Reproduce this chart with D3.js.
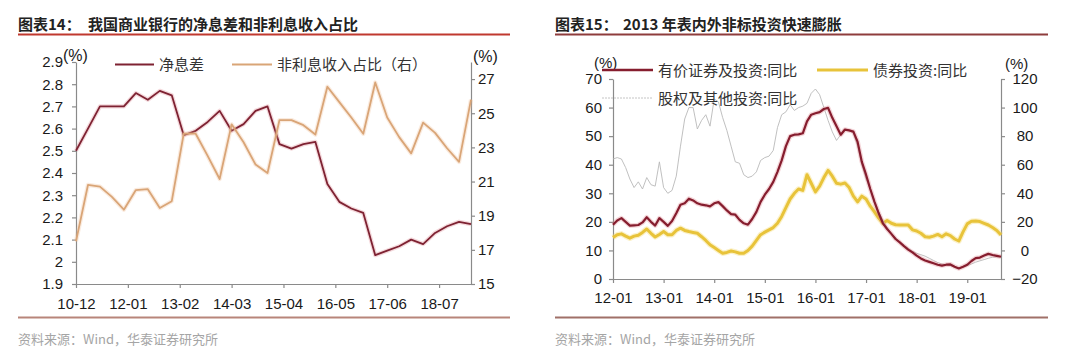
<!DOCTYPE html>
<html>
<head>
<meta charset="utf-8">
<script src="https://cdn.jsdelivr.net/npm/d3@7"></script>
<style>
  body { margin: 0; background: #fff; }
  svg { display: block; font-family: "Liberation Sans", Arial, "Noto Sans CJK SC", sans-serif; }
  .cjk { font-family: "Noto Sans CJK SC", sans-serif; }
</style>
</head>
<body>
<svg id="chart" width="1080" height="354"></svg>
<script>
// ---- Chart 14 data (quarterly) ----
const nimQuarters = ['2010-12', '2011-03', '2011-06', '2011-09', '2011-12', '2012-03', '2012-06', '2012-09', '2012-12',
    '2013-03', '2013-06', '2013-09', '2013-12', '2014-03', '2014-06', '2014-09', '2014-12', '2015-03', '2015-06',
    '2015-09', '2015-12', '2016-03', '2016-06', '2016-09', '2016-12', '2017-03', '2017-06', '2017-09', '2017-12',
    '2018-03', '2018-06', '2018-09', '2018-12', '2019-03'];
const nimValues = [2.50, 2.60, 2.70, 2.70, 2.70, 2.76, 2.73, 2.77, 2.75, 2.57, 2.59, 2.63, 2.68, 2.59, 2.62, 2.68, 2.70,
    2.53, 2.51, 2.53, 2.54, 2.35, 2.27, 2.24, 2.22, 2.03, 2.05, 2.07, 2.10, 2.08, 2.13, 2.16, 2.18, 2.17];
const nonInterestShare = [17.5, 20.8, 20.7, 20.1, 19.35, 20.5, 20.55, 19.45, 19.85, 23.8, 23.8, 22.5, 21.15, 24.35, 23.3,
    22.0, 21.5, 24.6, 24.6, 24.3, 23.75, 26.55, 25.65, 24.75, 23.8, 26.8, 24.75, 23.6, 22.65, 24.45, 23.85, 22.95, 22.15, 25.8];
const leftXTicks = ['10-12', '12-01', '13-02', '14-03', '15-04', '16-05', '17-06', '18-07'];
const leftYTicks = [1.9, 2, 2.1, 2.2, 2.3, 2.4, 2.5, 2.6, 2.7, 2.8, 2.9];
const leftY2Ticks = [15, 17, 19, 21, 23, 25, 27];

// ---- Chart 15 data (monthly from 2012-01) ----
const rightStart = '2012-01';
const securitiesYoY = [19.0, 20.5, 21.3, 20.0, 18.7, 18.8, 18.9, 19.8, 21.6, 20.0,
    18.7, 21.3, 20.0, 18.6, 20.3, 23.0, 26.0, 26.5, 28.1, 27.5,
    26.5, 26.0, 25.8, 25.4, 26.5, 26.9, 25.5, 24.0, 22.7, 22.5,
    20.7, 19.5, 19.0, 21.0, 23.5, 27.0, 29.5, 31.5, 34.0, 37.5,
    41.5, 46.5, 50.0, 50.5, 50.6, 51.0, 55.2, 57.5, 58.0, 58.4,
    59.5, 59.9, 56.4, 53.5, 50.5, 52.3, 52.0, 51.6, 48.0, 41.0,
    36.5, 31.5, 27.0, 23.0, 19.5, 17.5, 15.8, 14.0, 12.8, 11.5,
    10.3, 9.3, 8.2, 7.2, 6.5, 6.0, 5.5, 5.0, 4.7, 5.0,
    5.1, 4.3, 3.7, 4.3, 5.0, 6.3, 7.3, 7.5, 8.2, 8.8,
    8.4, 8.1, 7.8];
const bondYoY = [14.5, 15.5, 15.8, 15.0, 14.3, 15.0, 15.3, 16.3, 17.5, 16.0,
    14.7, 15.6, 16.6, 15.5, 15.5, 17.0, 17.8, 17.0, 16.6, 16.3,
    16.0, 14.8, 13.5, 12.0, 11.0, 10.0, 9.0, 9.3, 9.8, 9.5,
    9.0, 9.0, 10.0, 11.5, 13.5, 15.5, 16.4, 17.2, 18.0, 19.5,
    21.9, 25.0, 28.0, 30.0, 31.5, 31.0, 36.5, 33.5, 30.5, 32.5,
    35.5, 38.0, 36.0, 33.5, 33.2, 33.6, 32.0, 29.0, 27.0, 29.0,
    28.0, 25.5, 23.5, 21.3, 19.5, 20.5, 19.5, 19.0, 18.9, 18.9,
    18.9, 17.2, 16.8, 16.0, 14.8, 14.6, 15.0, 15.6, 14.8, 15.8,
    15.2, 14.0, 13.3, 16.5, 19.3, 20.2, 20.3, 20.1, 19.5, 18.9,
    18.0, 17.0, 15.4];
const equityYoY = [64, 65, 64, 58, 50, 44, 48, 43, 51, 46,
    45, 62, 44, 40, 42, 52, 73, 92, 100, 100,
    85, 91, 95, 87, 106, 104, 93, 84, 73, 62,
    61, 53, 51, 52, 55, 63, 65, 66, 70, 86,
    95, 97, 102, 98, 100, 101, 103, 110, 113, 109,
    100, 91, 83, 77, 81, 84, 84, 82, 73, 60,
    50, 43, 35, 27, 21, 16, 12, 9, 6, 3.5,
    1.5, -0.5, -2, -3, -4, -5.5, -7, -8.5, -9.5, -10,
    -10.6, -11.5, -12.5, -11.5, -10.6, -9.5, -8.2, -7.3, -6.4, -5.5,
    -4.7, -4.5, -4.3];
const rightXTicks = ['12-01', '13-01', '14-01', '15-01', '16-01', '17-01', '18-01', '19-01'];
const rightYTicks = [0, 10, 20, 30, 40, 50, 60, 70];
const rightY2Ticks = [-20, 0, 20, 40, 60, 80, 100, 120];

// month index helper: 'YYYY-MM' -> months since year 0
const monthIdx = s => { const [y, m] = s.split('-').map(Number); return y * 12 + m - 1; };
const shortIdx = s => monthIdx('20' + s);

const svg = d3.select('#chart');
const axisColor = '#8a8a8a';
const textColor = '#1a1a1a';

function styleAxis(g) {
    g.select('.domain').attr('stroke', axisColor).attr('stroke-width', 1.2);
    g.selectAll('.tick line').attr('stroke', axisColor).attr('stroke-width', 1.2);
    g.selectAll('.tick text').style('font-size', '15px').attr('fill', textColor);
}

function drawLine(data, x, y, color, width, halo) {
    const line = d3.line().x(d => x(d[0])).y(d => y(d[1]));
    if (halo) {
        svg.append('path').datum(data).attr('d', line).attr('fill', 'none')
            .attr('stroke', halo).attr('stroke-width', width + 2.5).attr('stroke-linejoin', 'round');
    }
    svg.append('path').datum(data).attr('d', line).attr('fill', 'none')
        .attr('stroke', color).attr('stroke-width', width).attr('stroke-linejoin', 'round');
}

function frame(x0, x1, title1, title2, title2x, topColor, bottomColor) {
    svg.append('text').attr('class', 'cjk').attr('x', x0).attr('y', 30)
        .style('font-size', '15px').style('font-weight', 'bold').attr('fill', '#222')
        .text(title1);
    svg.append('text').attr('class', 'cjk').attr('x', title2x).attr('y', 30)
        .style('font-size', '15px').style('font-weight', 'bold').attr('fill', '#222')
        .text(title2);
    svg.append('line').attr('x1', x0).attr('x2', x1).attr('y1', 34.5).attr('y2', 34.5)
        .attr('stroke', topColor).attr('stroke-width', 1.8);
    svg.append('line').attr('x1', x0).attr('x2', x1).attr('y1', 317.5).attr('y2', 317.5)
        .attr('stroke', bottomColor).attr('stroke-width', 1.8);
    svg.append('text').attr('class', 'cjk').attr('x', x0).attr('y', 343.5)
        .style('font-size', '13px').attr('fill', '#a5a5a5')
        .text('资料来源：Wind，华泰证券研究所');
}

function legendItem(x1, x2, y, color, width, label, dash) {
    const l = svg.append('line').attr('x1', x1).attr('x2', x2).attr('y1', y).attr('y2', y)
        .attr('stroke', color).attr('stroke-width', width);
    if (dash) l.attr('stroke-dasharray', dash);
    svg.append('text').attr('class', 'cjk').attr('x', x2 + 5).attr('y', y + 5.5)
        .style('font-size', '15px').attr('fill', '#333').text(label);
}

// ================= Chart 14 =================
frame(18, 510, '图表14：', '我国商业银行的净息差和非利息收入占比', 88, '#c0392f', '#b8857a');

const xL = d3.scaleLinear().domain([monthIdx(nimQuarters[0]), monthIdx(nimQuarters[nimQuarters.length - 1])]).range([76, 471]);
const yL = d3.scaleLinear().domain([1.9, 2.9]).range([284, 62]);
const yL2 = d3.scaleLinear().domain([15, 28]).range([284, 62]);

svg.append('g').attr('transform', 'translate(76,0)')
    .call(d3.axisLeft(yL).tickValues(leftYTicks).tickFormat(d => String(d)).tickSize(4).tickSizeOuter(0).tickPadding(9))
    .call(styleAxis);
svg.append('g').attr('transform', 'translate(471,0)')
    .call(d3.axisRight(yL2).tickValues(leftY2Ticks).tickSize(4).tickSizeOuter(0).tickPadding(3))
    .call(styleAxis);
svg.append('g').attr('transform', 'translate(0,284)')
    .call(d3.axisBottom(xL).tickValues(leftXTicks.map(shortIdx))
        .tickFormat((d, i) => leftXTicks[i]).tickSize(4).tickSizeOuter(0).tickPadding(10))
    .call(styleAxis);

drawLine(nimQuarters.map((q, i) => [monthIdx(q), nimValues[i]]), xL, yL, '#7e2232', 1.8, 'rgba(214,120,130,0.28)');
drawLine(nimQuarters.map((q, i) => [monthIdx(q), nonInterestShare[i]]), xL, yL2, '#d9a577', 1.8, 'rgba(240,190,150,0.3)');

svg.append('text').attr('x', 63).attr('y', 61).style('font-size', '16px').attr('fill', textColor).text('(%)');
svg.append('text').attr('x', 473).attr('y', 62).style('font-size', '16px').attr('fill', textColor).text('(%)');

legendItem(115, 154, 64.5, '#7e2232', 2, '净息差');
legendItem(232, 272, 64.5, '#d9a577', 2, '非利息收入占比（右）');

// ================= Chart 15 =================
frame(555, 1048, '图表15：', '2013 年表内外非标投资快速膨胀', 623, '#8e3c3c', '#a07068');

const r0 = monthIdx(rightStart);
const months = d3.range(securitiesYoY.length).map(i => r0 + i);
const xR = d3.scaleLinear().domain([months[0], months[months.length - 1]]).range([613, 1001]);
const yR = d3.scaleLinear().domain([0, 70]).range([279, 79]);
const yR2 = d3.scaleLinear().domain([-20, 120]).range([279, 79]);

svg.append('g').attr('transform', 'translate(613,0)')
    .call(d3.axisLeft(yR).tickValues(rightYTicks).tickSize(4).tickSizeOuter(0).tickPadding(7))
    .call(styleAxis);
svg.append('g').attr('transform', 'translate(1001,0)')
    .call(d3.axisRight(yR2).tickValues(rightY2Ticks).tickSize(4).tickSizeOuter(0))
    .call(styleAxis)
    .selectAll('.tick text').attr('text-anchor', 'middle').attr('x', 24);
svg.append('g').attr('transform', 'translate(0,279)')
    .call(d3.axisBottom(xR).tickValues(rightXTicks.map(shortIdx))
        .tickFormat((d, i) => rightXTicks[i]).tickSize(4).tickSizeOuter(0).tickPadding(9))
    .call(styleAxis);

drawLine(months.map((m, i) => [m, bondYoY[i]]), xR, yR, '#e8c33a', 3, 'rgba(245,220,120,0.4)');
drawLine(months.map((m, i) => [m, equityYoY[i]]), xR, yR2, '#b9b9b9', 0.9, null);
drawLine(months.map((m, i) => [m, securitiesYoY[i]]), xR, yR, '#861d2e', 2.2, 'rgba(220,120,130,0.3)');

svg.append('text').attr('x', 594).attr('y', 68).style('font-size', '15px').attr('fill', textColor).text('(%)');
svg.append('text').attr('x', 1005).attr('y', 69).style('font-size', '15px').attr('fill', textColor).text('(%)');

legendItem(602, 653, 70, '#861d2e', 2.5, '有价证券及投资:同比');
legendItem(817, 868, 70, '#e8c33a', 3, '债券投资:同比');
legendItem(602, 653, 98, '#c4c4c4', 1, '股权及其他投资:同比', '2,1');
</script>
</body>
</html>
